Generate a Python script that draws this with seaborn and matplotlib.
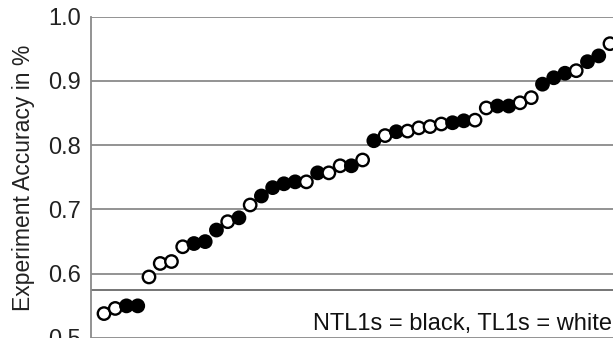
import numpy as np
import pandas as pd
import matplotlib
matplotlib.use('Agg')
import matplotlib.pyplot as plt
import seaborn as sns

# accuracy per experiment, sorted
accuracy = [0.538, 0.546, 0.550, 0.550, 0.595, 0.616, 0.619, 0.642, 0.647, 0.650,
            0.668, 0.681, 0.687, 0.707, 0.721, 0.734, 0.740, 0.743, 0.743, 0.757,
            0.757, 0.768, 0.768, 0.777, 0.807, 0.815, 0.821, 0.822, 0.827, 0.829,
            0.833, 0.835, 0.838, 0.839, 0.858, 0.861, 0.861, 0.866, 0.874, 0.895,
            0.905, 0.912, 0.916, 0.930, 0.939, 0.958]
# B = NTL1 (black), W = TL1 (white)
group_code = "WWBBWWWWBBBWBWBBBBWBWWBWBWBWWWWBBWWBBWWBBBWBBW"
group = ['NTL1' if c == 'B' else 'TL1' for c in group_code]
threshold = 0.574
yticks = [0.5, 0.6, 0.7, 0.8, 0.9, 1.0]
note = "NTL1s = black, TL1s = white"

df = pd.DataFrame({'experiment': np.arange(1, len(accuracy) + 1),
                   'accuracy': accuracy,
                   'group': group})

sns.set_style('white')
plt.rcParams['font.family'] = ['Liberation Sans', 'DejaVu Sans']

fig = plt.figure(figsize=(6.13, 3.38), dpi=100)
ax = fig.add_axes([91 / 613, 0.0, 522 / 613, 1 - 16.7 / 338])

grid_col = '#8a8a8a'
for v in yticks:
    ax.axhline(v, color=grid_col, lw=1.3, zorder=0)
ax.axhline(threshold, color='#6a6a6a', lw=1.3, zorder=0)

sns.scatterplot(data=df, x='experiment', y='accuracy', hue='group',
                palette={'NTL1': 'black', 'TL1': 'white'},
                edgecolor='black', linewidth=1.7, s=80, legend=False,
                zorder=3, ax=ax)

ax.set_xlim(-0.156, 46.27)
ax.set_ylim(0.5, 1.0)
ax.set_yticks(yticks)
ax.set_yticklabels([f'{v:.1f}' for v in yticks])
ax.set_xticks([])
ax.set_xlabel('')
ax.tick_params(axis='y', length=0, pad=7, labelsize=17, colors='#222222')
ax.set_ylabel('Experiment Accuracy in %', fontsize=16.5, color='#222222')
ax.yaxis.set_label_coords(-0.108, 0.5)

for side in ['right', 'bottom', 'top']:
    ax.spines[side].set_visible(False)
ax.spines['left'].set_color(grid_col)
ax.spines['left'].set_linewidth(1.3)

fig.text(313 / 613, 8 / 338, note, fontsize=17, color='#111111',
         ha='left', va='baseline')

fig.savefig('out.png', dpi=100)
